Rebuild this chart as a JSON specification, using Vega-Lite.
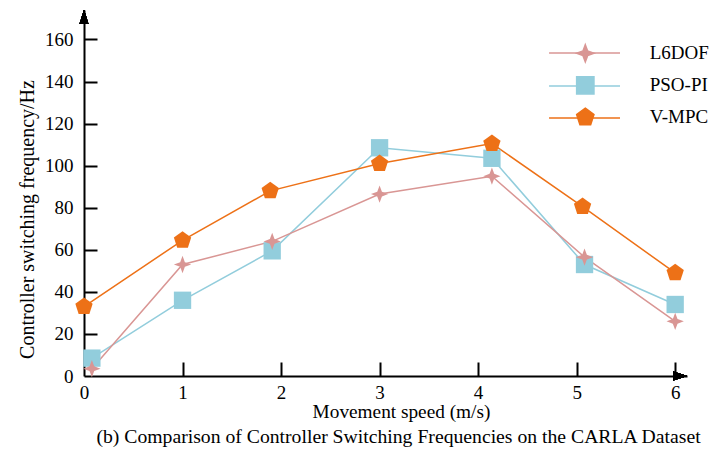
{
  "$schema": "https://vega.github.io/schema/vega-lite/v6.json",
  "width": 603,
  "height": 366,
  "autosize": {"type": "none"},
  "padding": {"left": 84, "top": 10, "right": 24, "bottom": 77},
  "background": "white",
  "config": {
    "view": {"stroke": null},
    "font": "Liberation Serif",
    "axis": {"tickColor": "black", "tickWidth": 2, "domainColor": "black", "domainWidth": 2}
  },
  "title": {
    "text": "(b) Comparison of Controller Switching Frequencies on the CARLA Dataset",
    "orient": "bottom",
    "anchor": "middle",
    "frame": "group",
    "font": "Liberation Serif",
    "fontSize": 19.7,
    "fontWeight": "normal",
    "color": "black",
    "dx": 13,
    "offset": 6
  },
  "data": {
    "values": [
      {"method": "PSO-PI", "speed": 0.08, "freq": 8.5},
      {"method": "PSO-PI", "speed": 1.0, "freq": 36},
      {"method": "PSO-PI", "speed": 1.91, "freq": 59.5},
      {"method": "PSO-PI", "speed": 3.0, "freq": 108.5},
      {"method": "PSO-PI", "speed": 4.14, "freq": 103.5},
      {"method": "PSO-PI", "speed": 5.08, "freq": 53},
      {"method": "PSO-PI", "speed": 6.0, "freq": 34},
      {"method": "L6DOF", "speed": 0.08, "freq": 3.5},
      {"method": "L6DOF", "speed": 1.0, "freq": 53},
      {"method": "L6DOF", "speed": 1.91, "freq": 64},
      {"method": "L6DOF", "speed": 3.0, "freq": 86.5},
      {"method": "L6DOF", "speed": 4.14, "freq": 95},
      {"method": "L6DOF", "speed": 5.08, "freq": 56.5},
      {"method": "L6DOF", "speed": 6.0, "freq": 26},
      {"method": "V-MPC", "speed": 0.0, "freq": 33},
      {"method": "V-MPC", "speed": 1.0, "freq": 64.5},
      {"method": "V-MPC", "speed": 1.89, "freq": 88},
      {"method": "V-MPC", "speed": 3.0, "freq": 101},
      {"method": "V-MPC", "speed": 4.14, "freq": 110.5},
      {"method": "V-MPC", "speed": 5.06, "freq": 80.5},
      {"method": "V-MPC", "speed": 6.0, "freq": 49}
    ]
  },
  "resolve": {"axis": {"x": "independent", "y": "independent"}},
  "layer": [
    {
      "mark": {"type": "line", "strokeWidth": 1.5},
      "encoding": {
        "x": {
          "field": "speed",
          "type": "quantitative",
          "scale": {"domain": [0, 6.12], "nice": false, "zero": false},
          "axis": {
            "orient": "bottom",
            "values": [0, 1, 2, 3, 4, 5, 6],
            "format": "d",
            "title": "Movement speed (m/s)",
            "grid": false,
            "ticks": false,
            "labelPadding": 7,
            "labelFont": "Liberation Serif",
            "labelFontSize": 19,
            "labelColor": "black",
            "labelFlush": false,
            "labelOverlap": false,
            "titleFont": "Liberation Serif",
            "titleFontSize": 19.3,
            "titleFontWeight": "normal",
            "titleColor": "black",
            "titleX": 317,
            "titleY": 41,
            "titleAlign": "center",
            "titleBaseline": "alphabetic"
          }
        },
        "y": {
          "field": "freq",
          "type": "quantitative",
          "scale": {"domain": [0, 174], "nice": false},
          "axis": {
            "orient": "left",
            "values": [0, 20, 40, 60, 80, 100, 120, 140, 160],
            "title": "Controller switching frequency/Hz",
            "grid": false,
            "ticks": false,
            "labelPadding": 11,
            "labelFont": "Liberation Serif",
            "labelFontSize": 19,
            "labelColor": "black",
            "labelFlush": false,
            "labelOverlap": false,
            "titleFont": "Liberation Serif",
            "titleFontSize": 20,
            "titleFontWeight": "normal",
            "titleColor": "black",
            "titleX": -57,
            "titleY": 209,
            "titleAngle": 270,
            "titleAlign": "center",
            "titleBaseline": "middle"
          }
        },
        "color": {
          "field": "method",
          "type": "nominal",
          "scale": {
            "domain": ["L6DOF", "PSO-PI", "V-MPC"],
            "range": ["#D99694", "#92CDDC", "#ED7117"]
          },
          "legend": {
            "title": null,
            "orient": "none",
            "legendX": 491.8,
            "legendY": 33.8,
            "padding": 0,
            "symbolSize": 300,
            "labelFont": "Liberation Serif",
            "labelFontSize": 19,
            "labelColor": "black",
            "labelOffset": 54.9,
            "rowPadding": 7
          }
        }
      }
    },
    {
      "transform": [{"aggregate": [{"op": "count", "as": "n"}]}],
      "mark": {"type": "rule", "strokeWidth": 1.5},
      "encoding": {
        "x": {"datum": 4.72, "type": "quantitative", "axis": null},
        "x2": {"datum": 5.44},
        "y": {"datum": 153.6, "type": "quantitative", "axis": null},
        "color": {"datum": "L6DOF", "type": "nominal", "legend": null}
      }
    },
    {
      "transform": [{"aggregate": [{"op": "count", "as": "n"}]}],
      "mark": {"type": "rule", "strokeWidth": 1.5},
      "encoding": {
        "x": {"datum": 4.72, "type": "quantitative", "axis": null},
        "x2": {"datum": 5.44},
        "y": {"datum": 137.9, "type": "quantitative", "axis": null},
        "color": {"datum": "PSO-PI", "type": "nominal", "legend": null}
      }
    },
    {
      "transform": [{"aggregate": [{"op": "count", "as": "n"}]}],
      "mark": {"type": "rule", "strokeWidth": 1.5},
      "encoding": {
        "x": {"datum": 4.72, "type": "quantitative", "axis": null},
        "x2": {"datum": 5.44},
        "y": {"datum": 122.7, "type": "quantitative", "axis": null},
        "color": {"datum": "V-MPC", "type": "nominal", "legend": null}
      }
    },
    {
      "mark": {"type": "point", "filled": true, "opacity": 1, "size": 300},
      "encoding": {
        "x": {
          "field": "speed",
          "type": "quantitative",
          "axis": {
            "orient": "bottom",
            "offset": -14,
            "values": [1, 2, 3, 4, 5, 6],
            "ticks": true,
            "tickSize": 14,
            "labels": false,
            "domain": false,
            "grid": false,
            "title": null,
            "zindex": 1
          }
        },
        "y": {
          "field": "freq",
          "type": "quantitative",
          "axis": {
            "orient": "left",
            "offset": -13,
            "values": [20, 40, 60, 80, 100, 120, 140, 160],
            "ticks": true,
            "tickSize": 13,
            "labels": false,
            "domain": false,
            "grid": false,
            "title": null,
            "zindex": 1
          }
        },
        "color": {"field": "method", "type": "nominal"},
        "shape": {
          "field": "method",
          "type": "nominal",
          "scale": {
            "domain": ["L6DOF", "PSO-PI", "V-MPC"],
            "range": [
              "M0,-1 L0.27,-0.27 L1,0 L0.27,0.27 L0,1 L-0.27,0.27 L-1,0 L-0.27,-0.27 Z",
              "square",
              "M0,-1.05 L1,-0.325 L0.618,0.85 L-0.618,0.85 L-1,-0.325 Z"
            ]
          },
          "legend": null
        }
      }
    },
    {
      "mark": {"type": "point", "shape": "M0,-1 L0.64,1 L-0.64,1 Z", "size": 196, "filled": true, "opacity": 1, "color": "black"},
      "encoding": {
        "x": {"datum": 0, "type": "quantitative", "axis": null},
        "y": {"datum": 170.7, "type": "quantitative", "axis": null}
      }
    },
    {
      "mark": {"type": "point", "shape": "M1,0 L-1,-0.64 L-1,0.64 Z", "size": 196, "filled": true, "opacity": 1, "color": "black"},
      "encoding": {
        "x": {"datum": 6.05, "type": "quantitative", "axis": null},
        "y": {"datum": 0, "type": "quantitative", "axis": null}
      }
    }
  ]
}
